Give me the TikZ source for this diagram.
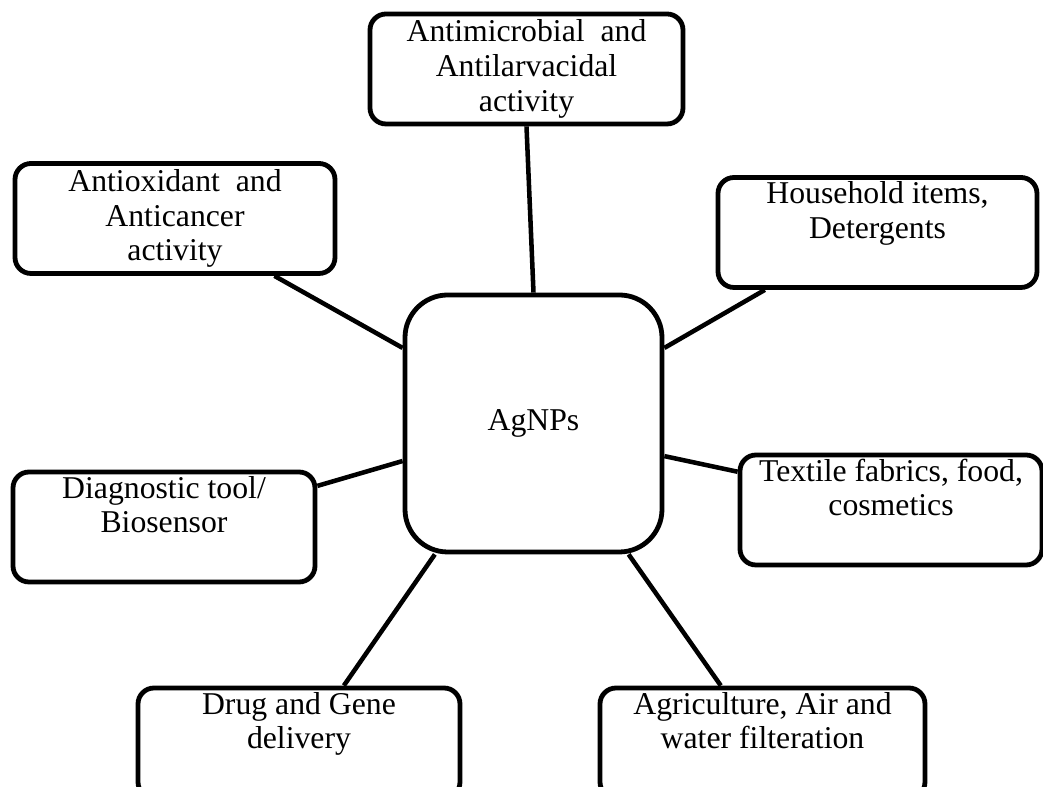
\documentclass[tikz,border=0pt]{standalone}
\usepackage{fontspec}
\setmainfont{Liberation Serif}
\begin{document}
\begin{tikzpicture}
[x=0.75pt,y=0.75pt,
  boxdecorate/.style={shape=rectangle,rounded corners=12pt,draw,line width=3.6pt,%
    minimum height=82.5pt,inner sep=0pt,align=center,font=\fontsize{23.8}{26}\selectfont},
  hubdecorate/.style={boxdecorate,rounded corners=32pt,minimum width=192.75pt,minimum height=192.75pt},
  linedecorate/.style={-,line width=3.4pt}]
\useasboundingbox (0,0) rectangle (1043,787);
%% central node
\node (agnps) at (533.5,363.5) [hubdecorate] {AgNPs};
%% application nodes
\foreach \nodename/\x/\y/\w/\txt in {
  amb/526.5/718/234.75/{Antimicrobial~ and\\ Antilarvacidal\\ activity},
  aox/175/568.5/240/{Antioxidant~ and\\ Anticancer\\ activity},
  hh/877.5/554.5/239.25/{Household items,\\ Detergents\\ \strut},
  tex/891/277/226.5/{Textile fabrics, food,\\ cosmetics\\ \strut},
  dia/164/260/226.5/{Diagnostic tool/\\ Biosensor\\ \strut},
  drug/299/44/241.5/{Drug and Gene\\ delivery\\ \strut},
  agri/762.5/44/243.75/{Agriculture, Air and\\ water filteration\\ \strut}} {
  \node (\nodename) at (\x,\y) [boxdecorate,minimum width=\w pt] {\txt};
}
%% edges or lines
\path
\foreach \startnode/\endnode in {amb.south/agnps.north, aox.-30/agnps.150,
  hh.207/agnps.30, tex.166/agnps.-14, dia.15/agnps.196,
  drug.52/agnps.233, agri.126/agnps.-54} {
  (\startnode) edge[linedecorate] (\endnode)
};
\end{tikzpicture}
\end{document}
